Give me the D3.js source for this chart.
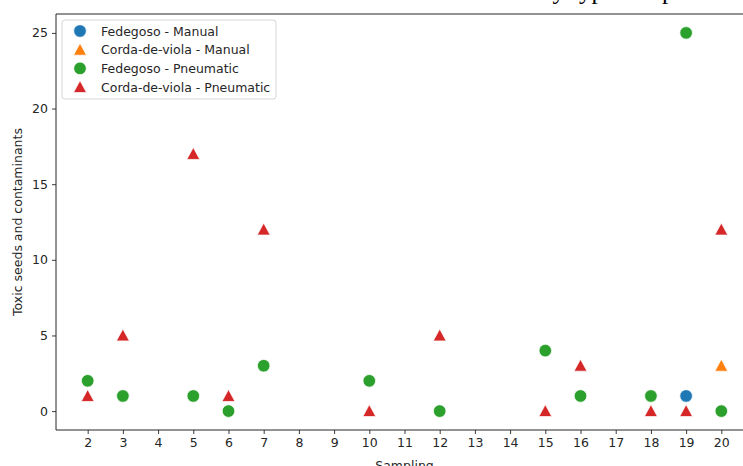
<!DOCTYPE html>
<html lang="en">
<head>
<meta charset="UTF-8">
<title>Toxic seeds and contaminants</title>
<style>
    body { margin: 0; background: #fff; }
    svg { display: block; }
    text { font-family: "DejaVu Sans", sans-serif; fill: #262626; }
</style>
</head>
<body>
<div id="content"></div>
<script src="https://cdn.jsdelivr.net/npm/d3@7"></script>
<script>

    // series, one array per label
    var seriesNames = ["Fedegoso - Manual", "Corda-de-viola - Manual",
        "Fedegoso - Pneumatic", "Corda-de-viola - Pneumatic"];
    var seriesColors = ["#1f77b4", "#ff7f0e", "#2ca02c", "#d62728"];
    var seriesShapes = ["circle", "triangle", "circle", "triangle"];

    var fedegosoManual = [{ s: 19, v: 1 }];
    var cordaManual = [{ s: 20, v: 3 }];
    var fedegosoPneumatic = [
        { s: 2, v: 2 }, { s: 3, v: 1 }, { s: 5, v: 1 }, { s: 6, v: 0 },
        { s: 7, v: 3 }, { s: 10, v: 2 }, { s: 12, v: 0 }, { s: 15, v: 4 },
        { s: 16, v: 1 }, { s: 18, v: 1 }, { s: 19, v: 25 }, { s: 20, v: 0 }
    ];
    var cordaPneumatic = [
        { s: 2, v: 1 }, { s: 3, v: 5 }, { s: 5, v: 17 }, { s: 6, v: 1 },
        { s: 7, v: 12 }, { s: 10, v: 0 }, { s: 12, v: 5 }, { s: 15, v: 0 },
        { s: 16, v: 3 }, { s: 18, v: 0 }, { s: 19, v: 0 }, { s: 20, v: 12 }
    ];
    var seriesData = [fedegosoManual, cordaManual, fedegosoPneumatic, cordaPneumatic];

    var xTicks = d3.range(2, 21);
    var yTicks = [0, 5, 10, 15, 20, 25];

    var W = 743, H = 466;
    var margin = { top: 14, left: 56 },
        plotW = 697, plotH = 416;

    var svg = d3.select("#content").append("svg")
        .attr("width", W).attr("height", H);

    // leftover of the document caption above the figure, mostly cut off
    var caption = svg.append("text")
        .attr("y", -1)
        .style("font-family", "'Liberation Serif', serif")
        .style("font-size", "25px")
        .style("fill", "#000");
    caption.append("tspan").attr("x", 532).attr("text-anchor", "end").text("Distribution of seeds");
    caption.append("tspan").attr("x", 540).text("by");
    caption.append("tspan").attr("x", 572).text("type");
    caption.append("tspan").attr("x", 620).text("and");
    caption.append("tspan").attr("x", 662).text("period");

    var g = svg.append("g")
        .attr("transform", "translate(" + margin.left + "," + margin.top + ")");

    var x = d3.scaleLinear().domain([1.1, 20.9]).range([0, plotW]);
    var y = d3.scaleLinear().domain([-1.25, 26.25]).range([plotH, 0]);

    var xAxis = g.append("g")
        .attr("transform", "translate(0," + plotH + ")")
        .call(d3.axisBottom(x).tickValues(xTicks).tickFormat(d3.format("d"))
            .tickSizeInner(4).tickSizeOuter(0).tickPadding(4));
    var yAxis = g.append("g")
        .call(d3.axisLeft(y).tickValues(yTicks)
            .tickSizeInner(4).tickSizeOuter(0).tickPadding(4));

    [xAxis, yAxis].forEach(function (a) {
        a.select(".domain").remove();
        a.selectAll("line").attr("stroke", "#262626").attr("stroke-width", 0.9);
        a.selectAll("text").style("font-size", "12.5px")
            .style("font-family", "'DejaVu Sans', sans-serif").attr("fill", "#262626");
    });

    // spines (right one falls outside the picture)
    g.append("line").attr("x1", 0).attr("x2", 0).attr("y1", 0).attr("y2", plotH)
        .attr("stroke", "#262626").attr("stroke-width", 1);
    g.append("line").attr("x1", 0).attr("x2", plotW).attr("y1", plotH).attr("y2", plotH)
        .attr("stroke", "#262626").attr("stroke-width", 1);
    g.append("line").attr("x1", 0).attr("x2", plotW).attr("y1", 0).attr("y2", 0)
        .attr("stroke", "#262626").attr("stroke-width", 1);

    svg.append("text")
        .attr("transform", "translate(22," + (margin.top + plotH / 2) + ") rotate(-90)")
        .attr("text-anchor", "middle")
        .style("font-size", "12.5px")
        .text("Toxic seeds and contaminants");

    svg.append("text")
        .attr("x", margin.left + plotW / 2).attr("y", 470)
        .attr("text-anchor", "middle")
        .style("font-size", "12.5px")
        .text("Sampling");

    function markerPath(shape) {
        if (shape == "triangle") return "M0,-6.5L6.5,5.5L-6.5,5.5Z";
        return d3.symbol().type(d3.symbolCircle).size(Math.PI * 6.3 * 6.3)();
    }

    seriesData.forEach(function (data, i) {
        g.append("g").selectAll("path")
            .data(data)
            .enter()
            .append("path")
            .attr("d", markerPath(seriesShapes[i]))
            .attr("transform", function (d) { return "translate(" + x(d.s) + "," + y(d.v) + ")"; })
            .attr("fill", seriesColors[i])
            .attr("stroke", "#fff")
            .attr("stroke-width", 0.75);
    });

    // legend
    var legend = svg.append("g").attr("transform", "translate(62,20)");
    legend.append("rect")
        .attr("width", 214).attr("height", 79)
        .attr("rx", 3)
        .attr("fill", "#fff").attr("fill-opacity", 0.8)
        .attr("stroke", "#d6d6d6").attr("stroke-width", 1);

    var item = legend.selectAll("g.item")
        .data(seriesNames)
        .enter()
        .append("g")
        .attr("class", "item")
        .attr("transform", function (d, i) { return "translate(0," + (11 + i * 18.7) + ")"; });
    item.append("path")
        .attr("transform", "translate(18,0)")
        .attr("d", function (d, i) { return markerPath(seriesShapes[i]); })
        .attr("fill", function (d, i) { return seriesColors[i]; })
        .attr("stroke", "#fff").attr("stroke-width", 0.75);
    item.append("text")
        .attr("x", 39).attr("y", 4.5)
        .style("font-size", "12.5px")
        .text(function (d) { return d; });

</script>
</body>
</html>
